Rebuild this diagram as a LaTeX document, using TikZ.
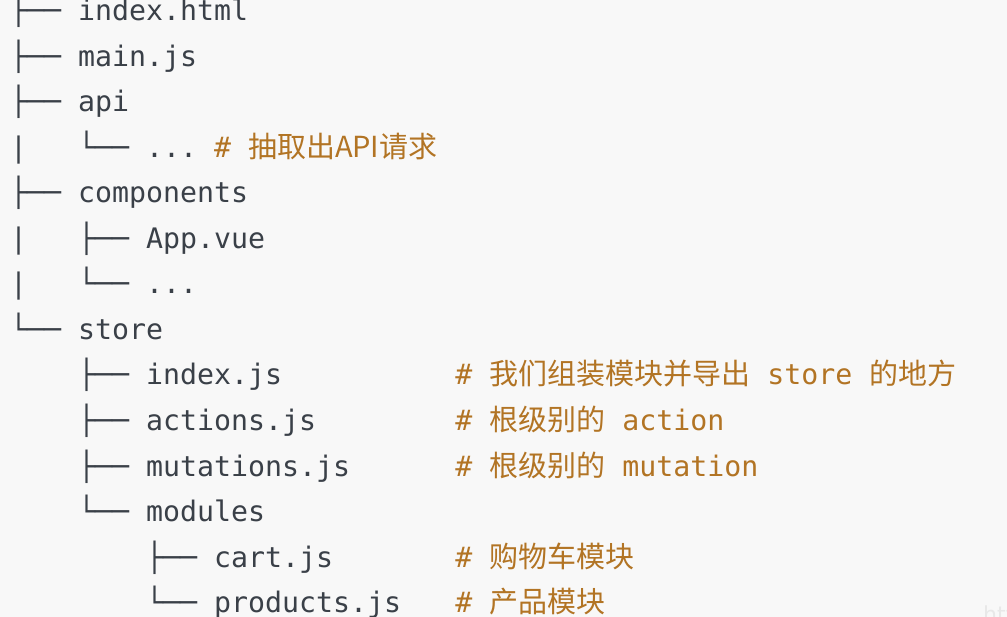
\documentclass[tikz,border=0pt]{standalone}
\usepackage{fontspec}
\setmainfont{DejaVu Sans}
\newfontfamily\mono{DejaVu Sans Mono}
\newfontfamily\cjkfont{Noto Sans CJK SC}
\newcommand\zh[1]{{\cjkfont\fontsize{29}{29}\selectfont #1}}
\definecolor{codebg}{HTML}{F8F8F8}
\definecolor{codefg}{HTML}{3A4048}
\definecolor{cmt}{HTML}{B27424}
\begin{document}
\begin{tikzpicture}[
  codeline/.style={anchor=base west, inner sep=0pt, outer sep=0pt, text=codefg,
    font=\mono\fontsize{28.24}{28.24}\selectfont},
  cmtline/.style={codeline, text=cmt}]
\fill[codebg] (0pt,0pt) rectangle (1007pt,-617pt);
\useasboundingbox (0pt,0pt) rectangle (1007pt,-617pt);
\begin{scope}[x=17pt, y=-45.5pt, shift={(10pt,-21pt)}]
\node[codeline] (t0) at (0,0) {├── index.html};
\node[codeline] (t1) at (0,1) {├── main.js};
\node[codeline] (t2) at (0,2) {├── api};
\node[codeline] (b3) at (0,3) {|};
\node[codeline] (t3) at (4,3) {└── ...};
\node[cmtline] (c3) at (12,3) {\# \zh{抽取出API请求}};
\node[codeline] (t4) at (0,4) {├── components};
\node[codeline] (b5) at (0,5) {|};
\node[codeline] (t5) at (4,5) {├── App.vue};
\node[codeline] (b6) at (0,6) {|};
\node[codeline] (t6) at (4,6) {└── ...};
\node[codeline] (t7) at (0,7) {└── store};
\node[codeline] (t8) at (4,8) {├── index.js};
\node[cmtline] (c8) at (26.2,8) {\# \zh{我们组装模块并导出} store \zh{的地方}};
\node[codeline] (t9) at (4,9) {├── actions.js};
\node[cmtline] (c9) at (26.2,9) {\# \zh{根级别的} action};
\node[codeline] (t10) at (4,10) {├── mutations.js};
\node[cmtline] (c10) at (26.2,10) {\# \zh{根级别的} mutation};
\node[codeline] (t11) at (4,11) {└── modules};
\node[codeline] (t12) at (8,12) {├── cart.js};
\node[cmtline] (c12) at (26.2,12) {\# \zh{购物车模块}};
\node[codeline] (t13) at (8,13) {└── products.js};
\node[cmtline] (c13) at (26.2,13) {\# \zh{产品模块}};
\end{scope}
\node[anchor=base west, inner sep=0pt, text=black!9, font=\fontsize{22}{22}\selectfont] (wm) at (983pt,-622pt) {htt};
\end{tikzpicture}
\end{document}
